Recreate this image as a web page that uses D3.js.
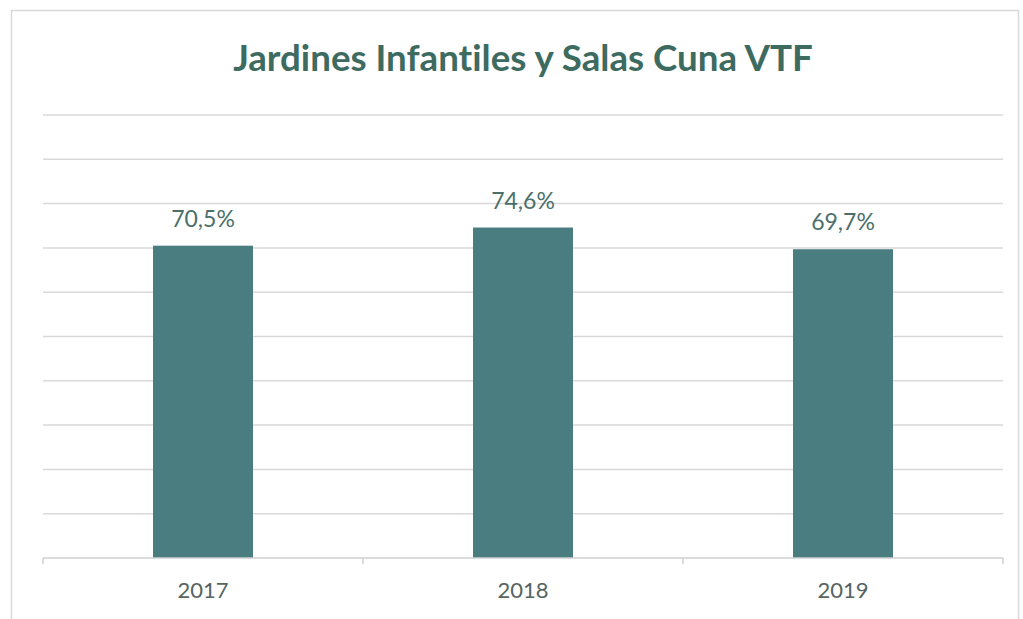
<!DOCTYPE html>
<html>
<head>
<meta charset="utf-8">
<script src="https://cdn.jsdelivr.net/npm/d3@7"></script>
<style>
  body { margin: 0; background: #fff; }
  svg { display: block; font-family: Lato, "Open Sans", sans-serif; font-variant-ligatures: none; }
</style>
</head>
<body>
<div id="chart"></div>
<script>
// Data
const years = ["2017", "2018", "2019"];
const values = [70.5, 74.6, 69.7];
const gridTicks = [0, 10, 20, 30, 40, 50, 60, 70, 80, 90, 100];
const title = "Jardines Infantiles y Salas Cuna VTF";

const width = 1023, height = 619;
const margin = { top: 115, right: 20, bottom: 61, left: 43 };

const svg = d3.select("#chart").append("svg")
    .attr("width", width)
    .attr("height", height);

// outer chart frame
svg.append("rect")
    .attr("x", 11.5).attr("y", 10.5)
    .attr("width", 1007).attr("height", 620)
    .attr("fill", "#fff")
    .attr("stroke", "#d9d9d9")
    .attr("stroke-width", 1.5);

const x = d3.scaleBand()
    .domain(years)
    .range([margin.left, 1003])
    .paddingInner(0)
    .paddingOuter(0);

const y = d3.scaleLinear()
    .domain([0, 100])
    .range([558, margin.top]);

// gridlines
svg.append("g")
    .selectAll("line")
    .data(gridTicks.slice(1))
    .enter()
    .append("line")
    .attr("x1", x.range()[0])
    .attr("x2", x.range()[1])
    .attr("y1", d => y(d))
    .attr("y2", d => y(d))
    .attr("stroke", "#d9d9d9")
    .attr("stroke-width", 1.5);

// bars
const barW = x.bandwidth() * 0.3125;
svg.append("g")
    .selectAll("rect")
    .data(values)
    .enter()
    .append("rect")
    .attr("x", (d, i) => x(years[i]) + x.bandwidth() / 2 - barW / 2)
    .attr("y", d => y(d))
    .attr("width", barW)
    .attr("height", d => y(0) - y(d))
    .attr("fill", "#4a7d7f");

// value labels
svg.append("g")
    .selectAll("text")
    .data(values)
    .enter()
    .append("text")
    .attr("x", (d, i) => x(years[i]) + x.bandwidth() / 2)
    .attr("y", d => y(d) - 19)
    .attr("text-anchor", "middle")
    .attr("font-size", 23)
    .attr("fill", "#4b6f6b")
    .text(d => d.toFixed(1).replace(".", ",") + "%");

// x axis
const xAxis = svg.append("g")
    .attr("transform", `translate(0,${y(0)})`)
    .call(d3.axisBottom(x).tickSize(0).tickPadding(0).tickFormat(""))
    .attr("font-family", null)
    .attr("font-size", null);
xAxis.select(".domain").remove();
xAxis.append("line")
    .attr("x1", x.range()[0]).attr("x2", x.range()[1])
    .attr("stroke", "#d0d0d0").attr("stroke-width", 1.5);
const bounds = years.map(d => x(d)).concat([x.range()[1]]);
xAxis.selectAll(".bound")
    .data(bounds)
    .enter()
    .append("line")
    .attr("class", "bound")
    .attr("x1", d => d).attr("x2", d => d)
    .attr("y1", 0).attr("y2", 6)
    .attr("stroke", "#d0d0d0").attr("stroke-width", 1.5);
xAxis.selectAll(".lbl")
    .data(years)
    .enter()
    .append("text")
    .attr("class", "lbl")
    .attr("x", d => x(d) + x.bandwidth() / 2)
    .attr("y", 40)
    .attr("text-anchor", "middle")
    .attr("font-size", 22)
    .attr("fill", "#55645f")
    .text(d => d);

// title
const t = svg.append("text")
    .attr("x", 523)
    .attr("y", 71)
    .attr("text-anchor", "middle")
    .attr("font-weight", "bold")
    .attr("font-size", 34)
    .attr("fill", "#3d6b5f")
    .text(title);
const tw = t.node().getComputedTextLength();
t.attr("font-size", 34 * 580 / tw);
</script>
</body>
</html>
